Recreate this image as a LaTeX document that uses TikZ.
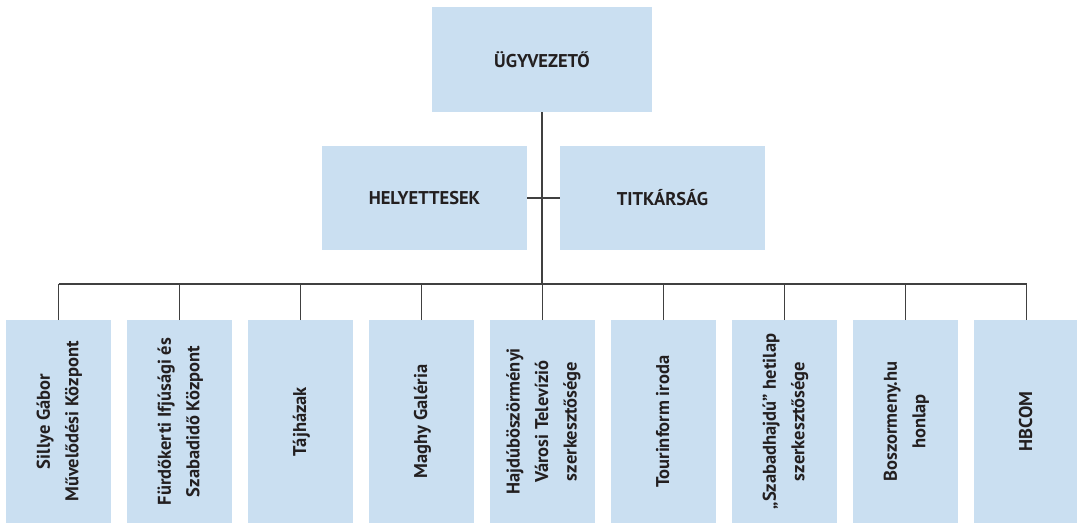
\documentclass[tikz,border=0pt]{standalone}
\usepackage{fontspec}
\usepackage{graphicx}
\setmainfont{PT Sans}
\usetikzlibrary{positioning}

\definecolor{boxblue}{RGB}{202,223,241}
\definecolor{linegray}{RGB}{64,64,64}
\definecolor{textdark}{RGB}{35,31,32}

\tikzset{
  unit/.style={fill=boxblue, inner sep=0pt, outer sep=0pt, text=textdark,
    font=\bfseries\fontsize{18.5}{28.5}\selectfont},
  topbox/.style={unit, minimum width=220pt, minimum height=105pt},
  midbox/.style={unit, minimum width=205pt, minimum height=104pt},
  dept/.style={unit, minimum width=105pt, minimum height=203pt},
  link/.style={draw=linegray, line width=1.4pt}
}
\newcommand{\vtext}[1]{\rotatebox{90}{\begin{tabular}{@{}c@{}}#1\end{tabular}}}

\begin{document}
\begin{tikzpicture}[x=1pt, y=-1pt]
\useasboundingbox (0,0) rectangle (1077,523);

\node[topbox] (ugy) at (542,59.5) {ÜGYVEZETŐ};
\node[midbox] (hely) at (424.5,198) {HELYETTESEK};
\node[midbox] (titk) at (662.5,198) {TITKÁRSÁG};

\node[dept] (b1) at (58.5,421.5) {\vtext{Sillye Gábor\\Művelődési Központ}};
\node[dept, right=16pt of b1] (b2) {\vtext{Fürdőkerti Ifjúsági és\\Szabadidő Központ}};
\node[dept, right=16pt of b2] (b3) {\vtext{Tájházak}};
\node[dept, right=16pt of b3] (b4) {\vtext{Maghy Galéria}};
\node[dept, right=16pt of b4] (b5) {\vtext{Hajdúböszörményi\\Városi Televízió\\szerkesztősége}};
\node[dept, right=16pt of b5] (b6) {\vtext{Tourinform iroda}};
\node[dept, right=16pt of b6] (b7) {\vtext{„Szabadhajdú” hetilap\\szerkesztősége}};
\node[dept, right=16pt of b7] (b8) {\vtext{Boszormeny.hu\\honlap}};
\node[dept, right=16pt of b8] (b9) {\vtext{HBCOM}};

\coordinate (bar) at (0,284);

% connectors
\draw[link] (hely) -- (titk);
\draw[link] (ugy) -- (ugy |- bar);
\draw[link] (b1 |- bar) -- (b9 |- bar);
\draw[link] (b1) -- (b1 |- bar);
\draw[link] (b2) -- (b2 |- bar);
\draw[link] (b3) -- (b3 |- bar);
\draw[link] (b4) -- (b4 |- bar);
\draw[link] (b5) -- (b5 |- bar);
\draw[link] (b6) -- (b6 |- bar);
\draw[link] (b7) -- (b7 |- bar);
\draw[link] (b8) -- (b8 |- bar);
\draw[link] (b9) -- (b9 |- bar);

\end{tikzpicture}
\end{document}
